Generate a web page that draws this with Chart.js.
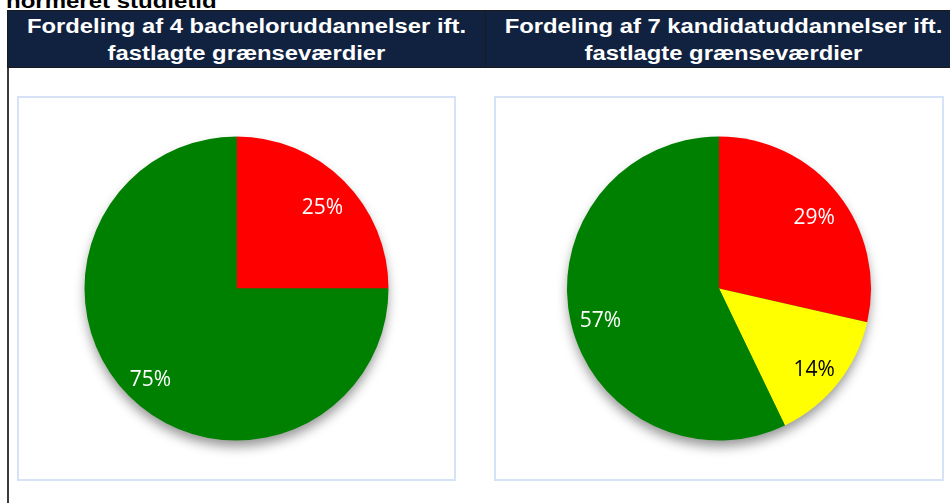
<!DOCTYPE html>
<html>
<head>
<meta charset="utf-8">
<script src="https://cdn.jsdelivr.net/npm/chart.js@4"></script>
<style>
  body { margin: 0; width: 950px; height: 503px; overflow: hidden; background: #fff; position: relative; font-family: 'Liberation Sans', Arial, sans-serif; }
  .top { position: absolute; left: 6px; top: -10px; font-weight: bold; font-size: 20px; color: #000; transform: scaleX(1.2); transform-origin: left top; white-space: nowrap; }
  .head { position: absolute; top: 10px; height: 58px; background: #112241; border: 1px solid #1a1a1a; box-sizing: border-box; overflow: hidden; }
  .head div { color: #fff; font-weight: bold; font-size: 20px; line-height: 27px; text-align: center; padding-top: 2px; transform: scaleX(1.19); transform-origin: center top; white-space: nowrap; }
  .vline { position: absolute; left: 7px; top: 68px; width: 2px; height: 435px; background: #3a3a3a; }
  .box { position: absolute; top: 96px; height: 385px; border: 2px solid #d6e2f5; box-sizing: border-box; }
  canvas { display: block; }
</style>
</head>
<body>
<div class="top">normeret studietid</div>
<div class="head" style="left:7px; width:479px;"><div>Fordeling af 4 bacheloruddannelser ift.<br>fastlagte grænseværdier</div></div>
<div class="head" style="left:485px; width:477px;"><div>Fordeling af 7 kandidatuddannelser ift.<br>fastlagte grænseværdier</div></div>
<div class="vline"></div>
<div class="box" style="left:17px; width:439px;"><canvas id="pieBachelor" width="435" height="381"></canvas></div>
<div class="box" style="left:494px; width:450px;"><canvas id="pieKandidat" width="446" height="381"></canvas></div>
<script>
// kategorier og antal uddannelser pr. farve
const categories = ['Rød', 'Gul', 'Grøn'];
const bachelorCounts = [1, 0, 3];
const kandidatCounts = [2, 1, 4];

const sliceColors = ['#ff0000', '#ffff00', '#008000'];
const labelColors = ['#ffffff', '#000000', '#ffffff'];

// skygge under hele cirklen (som i Excel)
const shadowPlugin = {
  id: 'pieShadow',
  beforeDatasetsDraw(chart) {
    const el = chart.getDatasetMeta(0).data[0];
    const ctx = chart.ctx;
    ctx.save();
    ctx.shadowColor = 'rgba(0,0,0,0.42)';
    ctx.shadowBlur = 12;
    ctx.shadowOffsetY = 7;
    ctx.beginPath();
    ctx.arc(el.x, el.y, el.outerRadius - 1, 0, Math.PI * 2);
    ctx.fillStyle = '#008000';
    ctx.fill();
    ctx.restore();
  }
};

// procent-labels inde i hvert udsnit
const pctPlugin = {
  id: 'pctLabels',
  afterDatasetsDraw(chart) {
    const ctx = chart.ctx;
    const values = chart.data.datasets[0].data;
    const total = values.reduce((a, b) => a + b, 0);
    chart.getDatasetMeta(0).data.forEach((el, i) => {
      if (!values[i]) return;
      const mid = (el.startAngle + el.endAngle) / 2;
      const r = el.outerRadius * 0.8;
      ctx.save();
      ctx.font = '21px "Open Sans", sans-serif';
      ctx.fillStyle = labelColors[i];
      ctx.textAlign = 'center';
      ctx.textBaseline = 'alphabetic';
      ctx.fillText(Math.round(values[i] / total * 100) + '%', el.x + Math.cos(mid) * r, el.y + Math.sin(mid) * r + 11.5);
      ctx.restore();
    });
  }
};

function makePie(id, counts) {
  new Chart(document.getElementById(id), {
    type: 'pie',
    data: {
      labels: categories,
      datasets: [{
        data: counts,
        backgroundColor: sliceColors,
        borderWidth: 0,
        radius: 152
      }]
    },
    options: {
      responsive: false,
      animation: false,
      layout: { padding: 0 },
      plugins: { legend: { display: false }, tooltip: { enabled: false } }
    },
    plugins: [shadowPlugin, pctPlugin]
  });
}

makePie('pieBachelor', bachelorCounts);
makePie('pieKandidat', kandidatCounts);
</script>
</body>
</html>
